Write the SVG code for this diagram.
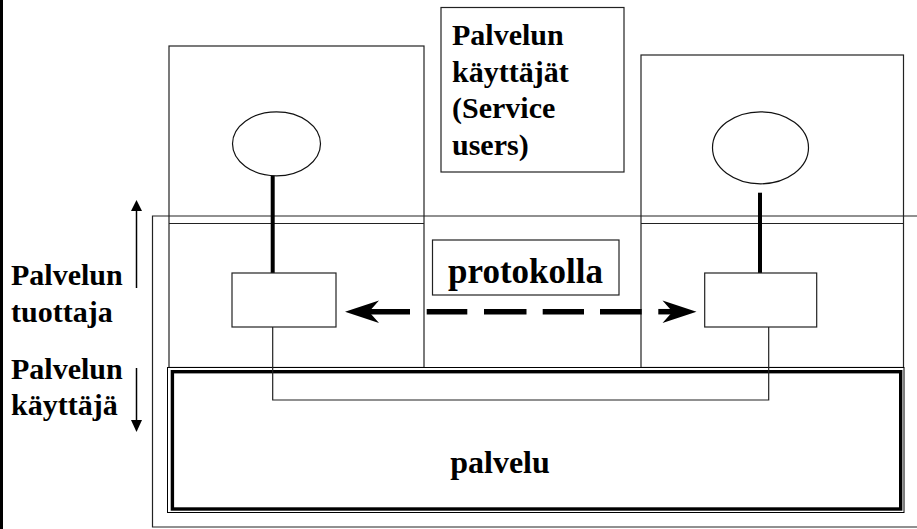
<svg xmlns="http://www.w3.org/2000/svg" width="917" height="529" viewBox="0 0 917 529">
<style>
.thin{fill:none;stroke:#222;stroke-width:1.2}
.box{fill:#fff;stroke:#222;stroke-width:1.2}
.ell{fill:#fff;stroke:#111;stroke-width:1.2}
.txt{font-family:"Liberation Serif","Times New Roman",serif;font-weight:bold;fill:#000}
.lbl{font-size:30px}
.stem{stroke:#000;stroke-width:4}
.dash{stroke:#000;stroke-width:5.5}
</style>
<defs>
<marker id="ah" viewBox="0 0 10 10" refX="10" refY="5" markerWidth="8" markerHeight="8" markerUnits="userSpaceOnUse" orient="auto">
<path d="M0,0 L10,5 L0,10 z" fill="#000"/>
</marker>
</defs>
<rect width="917" height="529" fill="#fff"/>
<line x1="1.5" y1="0" x2="1.5" y2="529" stroke="#000" stroke-width="3"/>

<g id="service-provider-frame">
<polyline class="thin" points="917,216 152.5,216 152.5,527 917,527"/>
</g>

<g id="left-entity">
<rect class="thin" x="169" y="46" width="255" height="321.5"/>
<line class="thin" x1="169" y1="223.5" x2="424" y2="223.5"/>
</g>

<g id="right-entity">
<rect class="thin" x="641" y="55" width="262.5" height="312.5"/>
<line class="thin" x1="641" y1="223.5" x2="903.5" y2="223.5"/>
</g>

<g id="service-users-label">
<rect class="box" x="441" y="7.5" width="183" height="164.5"/>
<text class="txt lbl" x="452" y="45">Palvelun</text>
<text class="txt lbl" x="452" y="81.7">käyttäjät</text>
<text class="txt lbl" x="452" y="118.3">(Service</text>
<text class="txt lbl" x="452" y="155">users)</text>
</g>

<g id="service">
<rect x="167.5" y="367.5" width="736.5" height="145" fill="#fff" stroke="#000" stroke-width="1"/>
<rect x="172.4" y="371.7" width="728.3" height="137.3" fill="none" stroke="#000" stroke-width="3.4"/>
<text class="txt" x="500" y="473" font-size="32" text-anchor="middle">palvelu</text>
</g>

<g id="connectors">
<line class="stem" x1="272.7" y1="175.5" x2="272.7" y2="273"/>
<line class="stem" x1="760" y1="192.7" x2="760" y2="273"/>
<polyline class="thin" points="272.7,327 272.7,400 768.7,400 768.7,327"/>
<line class="dash" x1="362" y1="311.7" x2="410" y2="311.7"/>
<line class="dash" x1="426.7" y1="311.7" x2="467.3" y2="311.7"/>
<line class="dash" x1="484" y1="311.7" x2="526.5" y2="311.7"/>
<line class="dash" x1="542.7" y1="311.7" x2="584" y2="311.7"/>
<line class="dash" x1="600" y1="311.7" x2="641.7" y2="311.7"/>
<line class="dash" x1="658.3" y1="311.7" x2="680" y2="311.7"/>
<polygon points="345,311.7 379,300.5 369,311.7 379,323" fill="#000"/>
<polygon points="696.5,311.7 662.5,300.5 672.5,311.7 662.5,323" fill="#000"/>
<line x1="136.5" y1="288" x2="136.5" y2="209" stroke="#000" stroke-width="1.5"/>
<polygon points="136.5,200 131,211 142,211" fill="#000"/>
<line x1="136.5" y1="368" x2="136.5" y2="421" stroke="#000" stroke-width="1.5"/>
<polygon points="136.5,432 131,420 142,420" fill="#000"/>
</g>

<g id="left-user">
<ellipse class="ell" cx="276.5" cy="143.8" rx="44" ry="32"/>
</g>
<g id="right-user">
<ellipse class="ell" cx="760.5" cy="147.8" rx="48" ry="36"/>
</g>

<g id="left-protocol-entity">
<rect class="box" x="232" y="273" width="104" height="54"/>
</g>
<g id="right-protocol-entity">
<rect class="box" x="704.7" y="273" width="112" height="54"/>
</g>

<g id="protocol-label">
<rect class="box" x="432.5" y="240" width="186.5" height="55"/>
<text class="txt" x="525.5" y="283.3" font-size="35" text-anchor="middle">protokolla</text>
</g>

<g id="side-labels">
<text class="txt lbl" x="11" y="285">Palvelun</text>
<text class="txt lbl" x="11" y="321.7">tuottaja</text>
<text class="txt lbl" x="11" y="378.5">Palvelun</text>
<text class="txt lbl" x="11" y="415">käyttäjä</text>
</g>
</svg>
